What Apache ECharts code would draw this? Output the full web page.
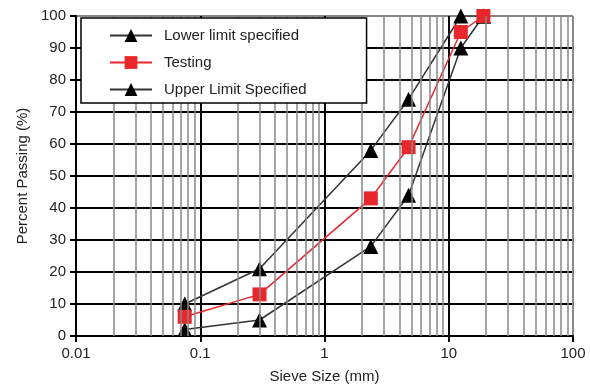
<!DOCTYPE html>
<html><head><meta charset="utf-8">
<script src="https://cdn.jsdelivr.net/npm/echarts@6/dist/echarts.min.js"></script>
<style>html,body{margin:0;padding:0;background:#fff}#c{width:590px;height:391px}</style>
</head><body><div id="c"></div>
<script>
const sieveSizes = [0.075, 0.3, 2.36, 4.75, 12.5, 19];
const lowerLimit = [2, 5, 28, 44, 90, 100];
const testing = [6, 13, 43, 59, 95, 100];
const upperLimit = [10, 21, 58, 74, 100, 100];
const minorGridX = [0.02,0.03,0.04,0.05,0.06,0.07,0.08,0.09,0.2,0.3,0.4,0.5,0.6,0.7,0.8,0.9,2,3,4,5,6,7,8,9,20,30,40,50,60,70,80,90];
const seriesNames = ['Lower limit specified', 'Testing', 'Upper Limit Specified'];

const pairs = (xs, ys) => xs.map((x, i) => [x, ys[i]]);
const font = 'Liberation Sans, Arial, sans-serif';
const chart = echarts.init(document.getElementById('c'), null, {renderer: 'canvas'});
chart.setOption({
  animation: false,
  grid: {left: 76, right: 17, top: 16, bottom: 55},
  xAxis: {
    type: 'log', logBase: 10, min: 0.01, max: 100, z: 1,
    name: 'Sieve Size (mm)', nameLocation: 'middle', nameGap: 33,
    nameTextStyle: {fontFamily: font, fontSize: 15, color: '#222'},
    axisLine: {show: true, lineStyle: {color: '#000', width: 2}},
    axisTick: {show: true, length: 6, lineStyle: {color: '#000', width: 2}},
    axisLabel: {fontFamily: font, fontSize: 15, color: '#222', margin: 10,
      formatter: v => String(+v.toPrecision(3))},
    splitLine: {show: true, lineStyle: {color: ['#000','#000','#000','#000','#888'], width: 2}},
    minorTick: {show: false}
  },
  yAxis: {
    type: 'value', min: 0, max: 100, interval: 10, z: 1,
    name: 'Percent Passing (%)', nameLocation: 'middle', nameGap: 46,
    nameTextStyle: {fontFamily: font, fontSize: 15, color: '#222'},
    axisLine: {show: true, lineStyle: {color: '#000', width: 2}},
    axisTick: {show: true, length: 6, lineStyle: {color: '#000', width: 2}},
    axisLabel: {fontFamily: font, fontSize: 15, color: '#222', margin: 10},
    splitLine: {show: true, lineStyle: {color: ['#000','#000','#000','#000','#000','#000','#000','#000','#000','#000','#888'], width: 2}}
  },
  legend: {
    data: seriesNames,
    orient: 'vertical', left: 81, top: 18,
    backgroundColor: '#fff', borderColor: '#000', borderWidth: 1.5, borderRadius: 0,
    padding: [10, 60, 6, 28],
    itemWidth: 42, itemHeight: 16, itemGap: 12,
    textStyle: {fontFamily: font, fontSize: 15, color: '#222', padding: [0, 0, 0, 7]},
    z: 10
  },
  series: [
    {
      type: 'line', data: [], z: 0, silent: true,
      markLine: {
        silent: true, symbol: 'none', label: {show: false},
        lineStyle: {color: '#888', width: 1.5, type: 'solid'},
        data: minorGridX.map(v => ({xAxis: v}))
      }
    },
    {
      name: seriesNames[0], type: 'line', z: 3, data: pairs(sieveSizes, lowerLimit),
      symbol: 'triangle', symbolSize: 15,
      lineStyle: {color: '#333', width: 1.5}, itemStyle: {color: '#000'}
    },
    {
      name: seriesNames[1], type: 'line', z: 4, data: pairs(sieveSizes, testing),
      symbol: 'rect', symbolSize: 14,
      lineStyle: {color: '#e8262b', width: 1.5}, itemStyle: {color: '#e8262b'}
    },
    {
      name: seriesNames[2], type: 'line', z: 3, data: pairs(sieveSizes, upperLimit),
      symbol: 'triangle', symbolSize: 15,
      lineStyle: {color: '#333', width: 1.5}, itemStyle: {color: '#000'}
    }
  ]
});
</script></body></html>
